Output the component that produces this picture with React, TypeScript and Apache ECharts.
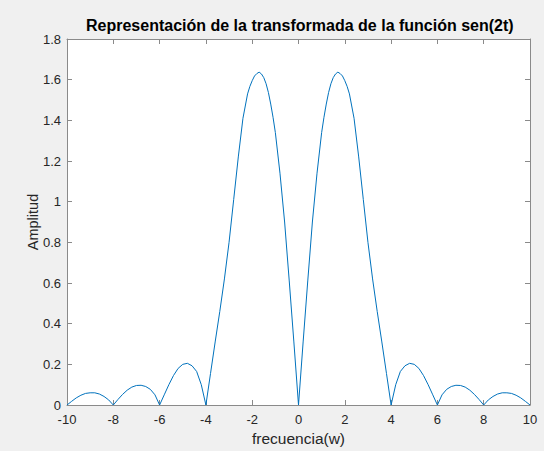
import React, { useEffect, useRef } from "react";
import * as echarts from "echarts";

// Frequency samples (w) and amplitude of the transform of sen(2t)
const frecuencia: number[] = [
  -10, -9.8, -9.6, -9.4, -9.2, -9, -8.8, -8.6, -8.4, -8.2,
  -8, -7.8, -7.6, -7.4, -7.2, -7, -6.8, -6.6, -6.4, -6.2,
  -6, -5.8, -5.6, -5.4, -5.2, -5, -4.8, -4.6, -4.4, -4.2,
  -4, -3.8, -3.6, -3.4, -3.2, -3, -2.8, -2.6, -2.4, -2.2,
  -2.1, -2, -1.9, -1.8, -1.7, -1.6, -1.5, -1.4, -1.3, -1.2, -1.1,
  -1, -0.8, -0.6, -0.4, -0.2,
  0,
  0.2, 0.4, 0.6, 0.8, 1,
  1.1, 1.2, 1.3, 1.4, 1.5, 1.6, 1.7, 1.8, 1.9, 2, 2.1,
  2.2, 2.4, 2.6, 2.8, 3, 3.2, 3.4, 3.6, 3.8, 4,
  4.2, 4.4, 4.6, 4.8, 5, 5.2, 5.4, 5.6, 5.8, 6,
  6.2, 6.4, 6.6, 6.8, 7, 7.2, 7.4, 7.6, 7.8, 8,
  8.2, 8.4, 8.6, 8.8, 9, 9.2, 9.4, 9.6, 9.8, 10,
];

const amplitud: number[] = [
  0, 0.018, 0.035, 0.048, 0.057, 0.06, 0.06, 0.054, 0.042, 0.025,
  0, 0.027, 0.052, 0.073, 0.088, 0.096, 0.097, 0.091, 0.077, 0.05,
  0, 0.05, 0.1, 0.145, 0.18, 0.2, 0.205, 0.193, 0.165, 0.1,
  0, 0.155, 0.31, 0.46, 0.62, 0.8, 1.01, 1.22, 1.41, 1.53,
  1.567, 1.595, 1.618, 1.63, 1.637, 1.628, 1.61, 1.58, 1.537, 1.48, 1.415,
  1.34, 1.14, 0.9, 0.61, 0.31,
  0,
  0.31, 0.61, 0.9, 1.14, 1.34,
  1.415, 1.48, 1.537, 1.58, 1.61, 1.628, 1.637, 1.63, 1.618, 1.595, 1.567,
  1.53, 1.41, 1.22, 1.01, 0.8, 0.62, 0.46, 0.31, 0.155, 0,
  0.1, 0.165, 0.193, 0.205, 0.2, 0.18, 0.145, 0.1, 0.05, 0,
  0.05, 0.077, 0.091, 0.097, 0.096, 0.088, 0.073, 0.052, 0.027, 0,
  0.025, 0.042, 0.054, 0.06, 0.06, 0.057, 0.048, 0.035, 0.018, 0,
];

const titulo = "Representación de la transformada de la función sen(2t)";
const etiquetaX = "frecuencia(w)";
const etiquetaY = "Amplitud";

const FONT = "'Liberation Sans', Arial, sans-serif";
const AXIS_GRAY = "#8a8a8a";
const TEXT_GRAY = "#262626";

export default function App() {
  const ref = useRef<HTMLDivElement>(null);

  useEffect(() => {
    if (!ref.current) return;
    const chart = echarts.init(ref.current, undefined, { renderer: "svg" });

    const boxAxis = {
      axisLine: { show: true, onZero: false, lineStyle: { color: AXIS_GRAY, width: 1 } },
      axisTick: { show: true, inside: true, length: 5, lineStyle: { color: AXIS_GRAY } },
      splitLine: { show: false },
    };

    chart.setOption({
      animation: false,
      backgroundColor: "#f0f0f0",
      title: {
        text: titulo,
        left: 86,
        top: 17,
        padding: 0,
        textStyle: { fontFamily: FONT, fontSize: 16, fontWeight: "bold", color: "#000" },
      },
      grid: { left: 67, right: 14, top: 39, bottom: 45, backgroundColor: "#fff", show: true, borderWidth: 0 },
      xAxis: [
        {
          type: "value",
          min: -10,
          max: 10,
          interval: 2,
          position: "bottom",
          name: etiquetaX,
          nameLocation: "middle",
          nameGap: 25,
          nameMoveOverlap: false,
          nameTextStyle: { fontFamily: FONT, fontSize: 15.5, color: TEXT_GRAY },
          axisLabel: { fontFamily: FONT, fontSize: 13, color: TEXT_GRAY, margin: 8 },
          ...boxAxis,
        },
        {
          type: "value",
          min: -10,
          max: 10,
          interval: 2,
          position: "top",
          axisLabel: { show: false },
          ...boxAxis,
        },
      ],
      yAxis: [
        {
          type: "value",
          min: 0,
          max: 1.8,
          interval: 0.2,
          position: "left",
          name: etiquetaY,
          nameLocation: "middle",
          nameGap: 27,
          nameMoveOverlap: false,
          nameTextStyle: { fontFamily: FONT, fontSize: 14.5, color: TEXT_GRAY },
          axisLabel: {
            fontFamily: FONT,
            fontSize: 13,
            color: TEXT_GRAY,
            margin: 6,
            formatter: (v: number) => String(Number(v.toFixed(1))),
          },
          ...boxAxis,
        },
        {
          type: "value",
          min: 0,
          max: 1.8,
          interval: 0.2,
          position: "right",
          axisLabel: { show: false },
          ...boxAxis,
        },
      ],
      series: [
        {
          type: "line",
          data: frecuencia.map((w, i) => [w, amplitud[i]]),
          showSymbol: false,
          lineStyle: { color: "#0072BD", width: 1 },
          clip: true,
        },
      ],
    });

    return () => chart.dispose();
  }, []);

  return (
    <div
      ref={ref}
      style={{ position: "fixed", left: 0, top: 0, width: 544, height: 451 }}
    />
  );
}
